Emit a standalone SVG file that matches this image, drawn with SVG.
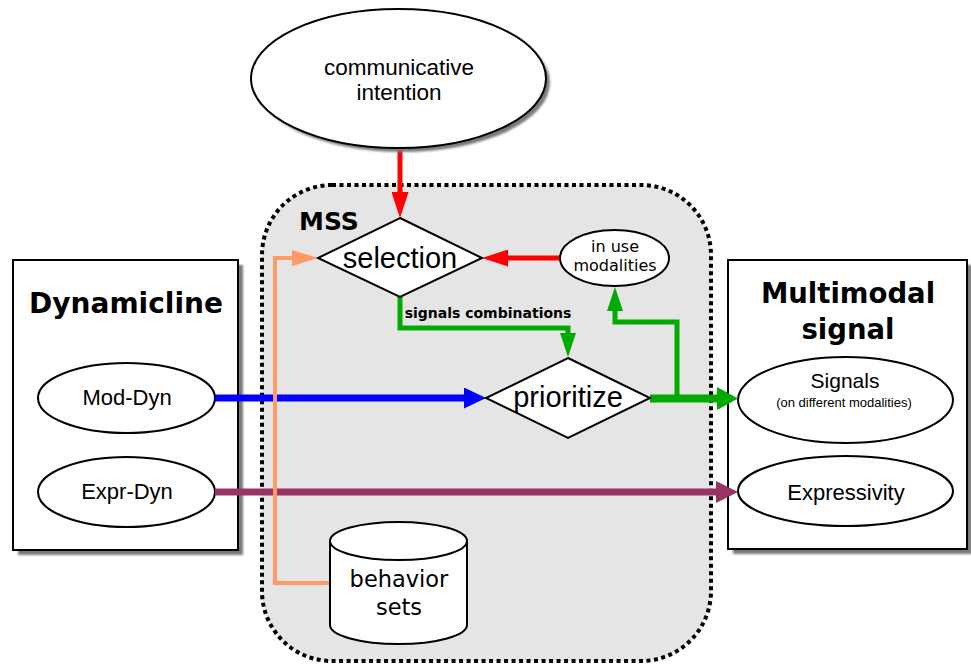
<svg xmlns="http://www.w3.org/2000/svg" width="971" height="666" viewBox="0 0 971 666">
  <defs>
    <filter id="soft" x="-10%" y="-10%" width="130%" height="130%">
      <feGaussianBlur stdDeviation="1"/>
    </filter>
    <marker id="ah-red" markerUnits="userSpaceOnUse" markerWidth="26" markerHeight="17" viewBox="0 0 26 17" refX="1" refY="8.5" orient="auto">
      <path d="M0,0 L26,8.5 L0,17 z" fill="#ff0000"/>
    </marker>
    <marker id="ah-green" markerUnits="userSpaceOnUse" markerWidth="24" markerHeight="16" viewBox="0 0 24 16" refX="1" refY="8" orient="auto">
      <path d="M0,0 L24,8 L0,16 z" fill="#00aa00"/>
    </marker>
    <marker id="ah-green-big" markerUnits="userSpaceOnUse" markerWidth="21" markerHeight="23" viewBox="0 0 21 23" refX="1" refY="11.5" orient="auto">
      <path d="M0,0 L21,11.5 L0,23 z" fill="#00aa00"/>
    </marker>
    <marker id="ah-blue" markerUnits="userSpaceOnUse" markerWidth="22" markerHeight="21" viewBox="0 0 22 21" refX="1" refY="10.5" orient="auto">
      <path d="M0,0 L22,10.5 L0,21 z" fill="#0000ff"/>
    </marker>
    <marker id="ah-purple" markerUnits="userSpaceOnUse" markerWidth="22" markerHeight="22" viewBox="0 0 22 22" refX="1" refY="11" orient="auto">
      <path d="M0,0 L22,11 L0,22 z" fill="#993366"/>
    </marker>
    <marker id="ah-orange" markerUnits="userSpaceOnUse" markerWidth="26" markerHeight="16" viewBox="0 0 26 16" refX="1" refY="8" orient="auto">
      <path d="M0,0 L26,8 L0,16 z" fill="#ff9966"/>
    </marker>
  </defs>
  <style>
    .shape { fill: #ffffff; stroke: #000000; stroke-width: 2; }
    .shadow { fill: #7a7a7a; filter: url(#soft); }
    .conn { fill: none; stroke-linejoin: miter; }
    .sans { font-family: "Liberation Sans", Arial, sans-serif; fill: #000; text-anchor: middle; }
    .dv { font-family: "DejaVu Sans", Verdana, sans-serif; fill: #000; text-anchor: middle; }
    .dvb { font-family: "DejaVu Sans", Verdana, sans-serif; font-weight: bold; fill: #000; text-anchor: middle; }
  </style>

  <!-- MSS container -->
  <g id="mss">
    <rect x="262" y="185" width="449" height="476" rx="70" ry="70" fill="#e5e5e5" stroke="#000" stroke-width="4" stroke-dasharray="4 3.5"/>
    <text class="dvb" x="329" y="230" font-size="25">MSS</text>
  </g>

  <!-- Dynamicline box -->
  <g id="dynamicline">
    <rect class="shadow" x="18" y="265" width="225" height="290"/>
    <rect class="shape" x="13" y="260" width="225" height="290"/>
    <text class="dvb" x="126" y="313" font-size="28">Dynamicline</text>
  </g>
  <g id="mod-dyn">
    <ellipse class="shape" cx="126.5" cy="398" rx="88.5" ry="35"/>
    <text class="sans" x="127" y="405" font-size="22">Mod-Dyn</text>
  </g>
  <g id="expr-dyn">
    <ellipse class="shape" cx="126.5" cy="492" rx="88.5" ry="35"/>
    <text class="sans" x="127" y="499" font-size="22">Expr-Dyn</text>
  </g>

  <!-- Multimodal signal box -->
  <g id="multimodal-signal">
    <rect class="shadow" x="733" y="265" width="239" height="289"/>
    <rect class="shape" x="728" y="260" width="239" height="289"/>
    <text class="dvb" x="848" y="303" font-size="27.5">Multimodal</text>
    <text class="dvb" x="848" y="339" font-size="27.5">signal</text>
  </g>
  <g id="signals">
    <ellipse class="shape" cx="845.5" cy="400" rx="107.5" ry="43"/>
    <text class="sans" x="845" y="388" font-size="21">Signals</text>
    <text class="sans" x="844" y="407" font-size="13">(on different modalities)</text>
  </g>
  <g id="expressivity">
    <ellipse class="shape" cx="845.5" cy="491" rx="107.5" ry="35"/>
    <text class="sans" x="846" y="500" font-size="22">Expressivity</text>
  </g>

  <!-- Connectors -->
  <g id="connectors" class="conn">
    <path d="M400,148 V193" stroke="#ff0000" stroke-width="5" marker-end="url(#ah-red)"/>
    <path d="M560,258 H507" stroke="#ff0000" stroke-width="5" marker-end="url(#ah-red)"/>
    <path d="M400,297 V328 H568 V334" stroke="#00aa00" stroke-width="5" marker-end="url(#ah-green)"/>
    <path d="M650,398.5 H718" stroke="#00aa00" stroke-width="8" marker-end="url(#ah-green-big)"/>
    <path d="M677,398 V322 H615 V310" stroke="#00aa00" stroke-width="5" marker-end="url(#ah-green)"/>
    <path d="M215,398 H465" stroke="#0000ff" stroke-width="7" marker-end="url(#ah-blue)"/>
    <path d="M215,492 H717" stroke="#993366" stroke-width="7" marker-end="url(#ah-purple)"/>
    <path d="M330,583 H275 V258 H293" stroke="#ff9966" stroke-width="4" marker-end="url(#ah-orange)"/>
    <text class="dvb" x="488" y="318" font-size="14" stroke="none">signals combinations</text>
  </g>

  <!-- Inner nodes -->
  <g id="communicative-intention">
    <ellipse class="shadow" cx="402.5" cy="82.5" rx="147.5" ry="69.5"/>
    <ellipse class="shape" cx="398.5" cy="78.5" rx="147.5" ry="69.5"/>
    <text class="sans" x="399" y="75" font-size="22.5">communicative</text>
    <text class="sans" x="399" y="100" font-size="22.5">intention</text>
  </g>
  <g id="selection">
    <polygon class="shape" points="400,218 482,258 400,297 318,258"/>
    <text class="sans" x="400" y="268" font-size="29">selection</text>
  </g>
  <g id="in-use-modalities">
    <ellipse class="shape" cx="614.5" cy="258" rx="54.5" ry="28"/>
    <text class="dv" x="615" y="252" font-size="16">in use</text>
    <text class="dv" x="615" y="271" font-size="16">modalities</text>
  </g>
  <g id="prioritize">
    <polygon class="shape" points="568,358 650,398 568,438 486,398"/>
    <text class="sans" x="568" y="407" font-size="29">prioritize</text>
  </g>
  <g id="behavior-sets">
    <path class="shape" d="M330,541 V625 A68.5,19 0 0 0 467,625 V541"/>
    <ellipse class="shape" cx="398.5" cy="541" rx="68.5" ry="19"/>
    <text class="dv" x="399" y="587" font-size="22.5">behavior</text>
    <text class="dv" x="399" y="615" font-size="22.5">sets</text>
  </g>
</svg>
